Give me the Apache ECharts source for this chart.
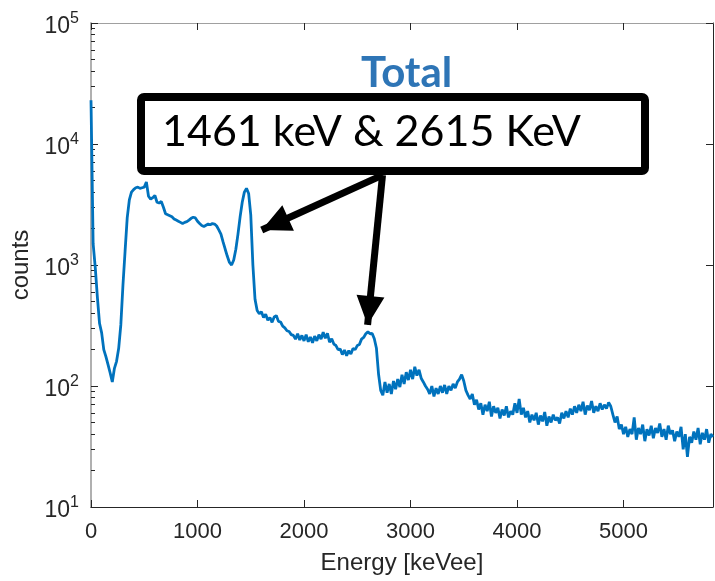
<!DOCTYPE html>
<html><head><meta charset="utf-8">
<script src="https://cdn.jsdelivr.net/npm/echarts@6/dist/echarts.min.js"></script>
<style>html,body{margin:0;padding:0;background:#fff}#c{width:715px;height:581px}</style>
</head><body><div id="c"></div>
<script>
// Histogram bins: energy of bin i = BIN_START + i * BIN_WIDTH (keVee)
const BIN_START = 0;
const BIN_WIDTH = 20;
const counts = [
  23000,1500,950,540,330, 275,200,175,150,128,
  108,140,160,205,320, 680,1300,2450,3450,4000,
  4200,4350,4400,4300,4350, 4400,4850,3700,3500,3600,
  3750,3300,3250,3350,3000, 2650,2600,2550,2500,2400,
  2350,2300,2250,2200,2250, 2280,2350,2430,2480,2450,
  2300,2200,2120,2080,2130, 2180,2150,2200,2180,2100,
  1950,1800,1550,1350,1180, 1050,1000,1100,1350,1800,
  2500,3300,4000,4300,3900, 2600,1000,520,420,395,
  410,368,392,350,368, 336,372,382,342,338,
  312,302,286,282,266,
  262,244,270,240,262, 236,266,232,254,228,
  258,236,266,244,278, 248,272,230,246,222,
  216,200,202,182,198, 178,196,184,204,200,
  216,220,244,252,270, 280,270,272,246,205,
  125,92,84,108,88, 104,86,110,94,114,
  98,124,104,130,112, 136,114,144,122,136,
  116,108,100,94,86, 100,82,96,86,100,
  88,102,86,100,92, 104,96,108,114,124,
  110,92,84,78,86, 70,77,64,72,58,
  70,62,74,56,68, 60,66,54,64,57,
  68,55,62,58,72, 60,78,58,66,55,
  62,50,58,52,60, 48,57,51,61,47,
  56,50,58,52,55, 49,60,54,62,55,
  65,58,68,60,70, 62,74,58,69,63,
  75,60,68,62,72, 64,70,65,73,68,
  58,50,56,44,48, 40,46,38,44,40,
  55,36,45,40,48, 35,44,39,47,37,
  45,41,49,38,44, 36,47,40,43,35,
  42,38,46,30,40, 26,38,34,42,36,
  45,33,41,36,44, 34,40,38
];
const xTicks = [0, 1000, 2000, 3000, 4000, 5000];
const yMajorTicks = [10, 100, 1000, 10000, 100000];
const yMinorTicks = [20,30,40,50,60,70,80,90, 200,300,400,500,600,700,800,900,
  2000,3000,4000,5000,6000,7000,8000,9000, 20000,30000,40000,50000,60000,70000,80000,90000];
const X_MIN = 0, X_MAX = 5840, Y_MIN = 10, Y_MAX = 100000;
// Annotation arrows (data coordinates): common start, two tips
const arrowStart = [2737, 5530];
const arrowTips = [[1603, 1945], [2597, 320]];
const titleText = 'Total';
const boxText = '1461 keV & 2615 KeV';
const xName = 'Energy [keVee]';
const yName = 'counts';

const seriesData = counts.map((c, i) => [BIN_START + i * BIN_WIDTH, c]);
const AX = '#262626';
const FONT = 'Liberation Sans';

const chart = echarts.init(document.getElementById('c'), null, {renderer: 'canvas'});
function logAxis(extra) {
  return Object.assign({
    type: 'log', logBase: 10, min: Y_MIN, max: Y_MAX, gridIndex: 0,
    splitLine: {show: false}, axisLabel: {show: false}, minorTick: {show: false}
  }, extra);
}
chart.setOption({
  animation: false,
  backgroundColor: '#fff',
  title: [
    {text: titleText, left: 356, top: 45,
     textStyle: {fontFamily: 'Lato', fontWeight: 'bold', fontSize: 42, lineHeight: 46, color: '#2E75B6'}},
    {text: boxText, left: 141, top: 97, padding: [12, 64, 16, 21],
     backgroundColor: '#fff', borderColor: '#000', borderWidth: 8, borderRadius: 3,
     textStyle: {fontFamily: 'Lato', fontWeight: 'normal', fontSize: 43, lineHeight: 46, color: '#000'}}
  ],
  grid: {left: 91, right: 2, top: 23, bottom: 74, containLabel: false, outerBoundsMode: 'none'},
  xAxis: [
    {type: 'value', min: X_MIN, max: X_MAX, position: 'bottom',
     name: xName, nameLocation: 'middle', nameGap: 44,
     nameTextStyle: {fontFamily: FONT, fontSize: 24, color: AX},
     axisLine: {show: true, lineStyle: {color: AX, width: 1}},
     axisTick: {show: true, inside: true, length: 7, customValues: xTicks, lineStyle: {color: AX}},
     axisLabel: {show: true, customValues: xTicks, margin: 14, fontFamily: FONT, fontSize: 22, color: AX,
       formatter: v => String(v)},
     splitLine: {show: false}},
    {type: 'value', min: X_MIN, max: X_MAX, position: 'top',
     axisLine: {show: true, lineStyle: {color: '#a0a0a0', width: 1}},
     axisTick: {show: true, inside: true, length: 7, customValues: xTicks, lineStyle: {color: AX}},
     axisLabel: {show: false}, splitLine: {show: false}}
  ],
  yAxis: [
    logAxis({position: 'left',
      name: yName, nameLocation: 'middle', nameGap: 38,
      nameTextStyle: {fontFamily: FONT, fontSize: 24, color: AX},
      axisLine: {show: true, lineStyle: {color: '#b0b0b0', width: 2}},
      axisTick: {show: true, inside: true, length: 7, customValues: yMajorTicks, lineStyle: {color: AX}},
      axisLabel: {show: true, customValues: yMajorTicks, margin: 12,
        formatter: v => '{b|10}{s|' + Math.round(Math.log10(v)) + '}',
        rich: {b: {fontFamily: FONT, fontSize: 23, lineHeight: 24, color: AX, padding: [7, 0, 0, 0]},
               s: {fontFamily: FONT, fontSize: 16, lineHeight: 16, color: AX, verticalAlign: 'top'}}}}),
    logAxis({position: 'left', offset: 0,
      axisLine: {show: false},
      axisTick: {show: true, inside: true, length: 4, customValues: yMinorTicks, lineStyle: {color: AX}}}),
    logAxis({position: 'right', offset: 0,
      axisLine: {show: true, lineStyle: {color: AX, width: 1}},
      axisTick: {show: true, inside: true, length: 7, customValues: yMajorTicks, lineStyle: {color: AX}}})
  ],
  series: [{
    type: 'line', xAxisIndex: 0, yAxisIndex: 0,
    data: seriesData, showSymbol: false, symbol: 'none',
    lineStyle: {color: '#0072BD', width: 2.8}, itemStyle: {color: '#0072BD'},
    emphasis: {disabled: true}, silent: true, z: 3,
    markLine: {
      silent: true,
      symbol: ['none', 'path://M5,-11 L5.01,-11 L5,-11 Z M5,0 L10,11 L0,11 Z'], symbolSize: [28, 58],
      label: {show: false}, emphasis: {disabled: true},
      lineStyle: {color: '#000', width: 7, type: 'solid', cap: 'butt'},
      data: arrowTips.map(t => [{coord: arrowStart}, {coord: t}])
    }
  }]
});
</script></body></html>
